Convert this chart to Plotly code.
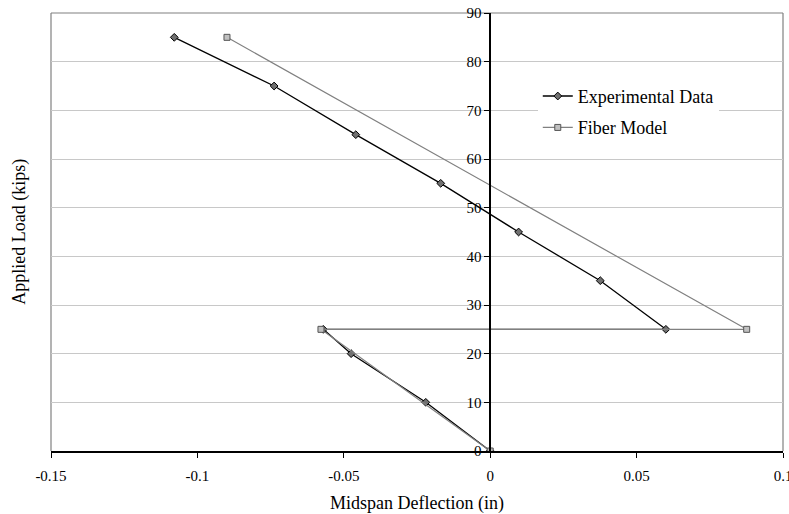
import plotly.graph_objects as go

# Data
exp_deflection = [0.0, -0.022, -0.0475, -0.057, 0.060, 0.0376, 0.0097, -0.0169, -0.0459, -0.0738, -0.1079]
exp_load = [0, 10, 20, 25, 25, 35, 45, 55, 65, 75, 85]

fib_deflection = [0.0, -0.0578, 0.0876, -0.0899]
fib_load = [0, 25, 25, 85]

x_ticks = [-0.15, -0.1, -0.05, 0, 0.05, 0.1]
x_ticktext = ["-0.15", "-0.1", "-0.05", "0", "0.05", "0.1"]
y_ticks = [0, 10, 20, 30, 40, 50, 60, 70, 80, 90]

FONT = "Liberation Serif, Times New Roman, serif"

fig = go.Figure()
fig.add_trace(go.Scatter(
    x=exp_deflection, y=exp_load, mode="lines+markers", name="Experimental Data",
    legendgroup="exp",
    line=dict(color="black", width=1.3),
    marker=dict(symbol="diamond", size=6, color="#707070", line=dict(color="black", width=1)),
))
fig.add_trace(go.Scatter(
    x=fib_deflection, y=fib_load, mode="lines+markers", name="Fiber Model",
    legendgroup="fib",
    line=dict(color="#808080", width=1.2),
    marker=dict(symbol="square", size=6, color="#c0c0c0", line=dict(color="#555555", width=1)),
))

fig.update_layout(
    width=789, height=514,
    margin=dict(l=51, r=6, t=13, b=63, autoexpand=False),
    paper_bgcolor="white", plot_bgcolor="white",
    font=dict(family=FONT, size=15, color="black"),
    showlegend=True,
    legend=dict(x=0.665, y=0.852, xanchor="left", yanchor="top",
                bgcolor="white", borderwidth=0,
                font=dict(family=FONT, size=18, color="black"),
                tracegroupgap=5),
    xaxis=dict(range=[-0.15, 0.1], tickvals=x_ticks, ticktext=x_ticktext,
               showgrid=False, zeroline=False, showline=True, linecolor="black", linewidth=1.5,
               ticks="outside", ticklen=5, tickcolor="black", ticklabelstandoff=5,
               ticklabeloverflow="allow", automargin=False,
               tickfont=dict(family=FONT, size=15)),
    yaxis=dict(range=[0, 90], tickvals=y_ticks, anchor="free", position=0.6,
               showgrid=True, gridcolor="#c8c8c8", gridwidth=1, automargin=False,
               zeroline=False, showline=True, linecolor="black", linewidth=1.5,
               ticks="outside", ticklen=5, tickcolor="black",
               tickfont=dict(family=FONT, size=15)),
    annotations=[dict(text="Applied Load (kips)", textangle=-90, xref="paper", yref="paper",
                      x=-0.044, y=0.5, xanchor="center", yanchor="middle", showarrow=False,
                      font=dict(family=FONT, size=18)),
                 dict(text="Midspan Deflection (in)", xref="paper", yref="paper",
                      x=0.5, y=-0.12, xanchor="center", yanchor="middle", showarrow=False,
                      font=dict(family=FONT, size=18))],
    shapes=[dict(type="line", xref="paper", yref="paper", x0=0, x1=0, y0=0, y1=1,
                 line=dict(color="#808080", width=1.2), layer="below"),
            dict(type="line", xref="paper", yref="paper", x0=0, x1=1, y0=1, y1=1,
                 line=dict(color="#808080", width=1.2), layer="below"),
            dict(type="line", xref="paper", yref="paper", x0=1, x1=1, y0=0, y1=1,
                 line=dict(color="#808080", width=1.2), layer="below")],
)

fig.write_html("out.html", config={"displayModeBar": False})

# remove the default page margin so the figure sits at the window's top-left corner
with open("out.html", "r", encoding="utf-8") as f:
    html = f.read()
html = html.replace("<body>", '<body style="margin:0;overflow:hidden">', 1)
with open("out.html", "w", encoding="utf-8") as f:
    f.write(html)
